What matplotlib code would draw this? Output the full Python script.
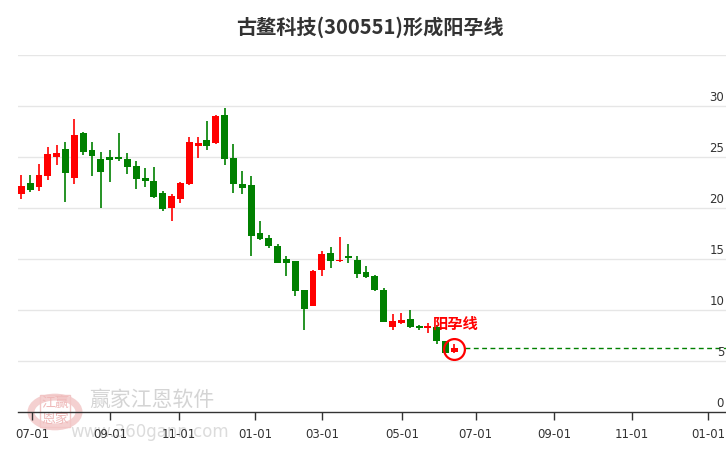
import matplotlib
matplotlib.use("Agg")
from matplotlib import pyplot as plt
from matplotlib.patches import Circle

plt.rcParams['font.family'] = ['Noto Sans CJK SC', 'DejaVu Sans']

# weekly candles (open, close, high, low)
opens = [21.41, 22.45, 22.09, 23.17, 25.03, 25.78, 22.97, 27.35, 25.69, 24.80,
         25.00, 25.00, 24.80, 24.12, 22.94, 22.65, 21.47, 20.03, 20.92, 22.39,
         26.11, 26.67, 26.41, 29.12, 24.90, 22.35, 22.25, 17.55, 17.06, 16.27,
         15.00, 14.80, 11.96, 10.42, 13.95, 15.59, 14.84, 15.33, 14.90, 13.73,
         13.37, 11.96, 8.33, 8.76, 9.12, 8.46, 8.30, 8.40, 6.99, 5.88]
closes = [22.16, 21.80, 23.24, 25.29, 25.39, 23.46, 27.16, 25.52, 25.13, 23.56,
          24.74, 24.84, 24.05, 22.88, 22.68, 21.11, 19.93, 21.18, 22.45, 26.47,
          26.37, 26.11, 29.02, 24.84, 22.39, 21.99, 17.29, 16.99, 16.31, 14.64,
          14.64, 11.90, 10.13, 13.82, 15.49, 14.84, 14.97, 15.16, 13.56, 13.27,
          11.96, 8.86, 8.95, 9.05, 8.37, 8.23, 8.49, 6.99, 5.78, 6.34]
highs = [23.24, 23.24, 24.31, 25.98, 26.18, 26.47, 28.73, 27.45, 26.47, 25.49,
         25.69, 27.35, 25.39, 24.61, 23.92, 24.02, 21.67, 21.37, 22.55, 26.96,
         26.96, 28.53, 29.12, 29.80, 26.27, 23.63, 23.14, 18.73, 17.35, 16.47,
         15.29, 14.80, 11.96, 13.92, 15.78, 16.18, 17.19, 16.47, 15.33, 14.31,
         13.46, 12.16, 9.61, 9.71, 10.00, 8.56, 8.72, 8.56, 6.99, 6.66]
lows = [20.92, 21.60, 21.70, 22.78, 24.25, 20.62, 22.39, 25.23, 23.14, 20.03,
        22.58, 24.64, 23.37, 21.90, 22.09, 21.01, 19.74, 18.76, 20.52, 22.29,
        24.93, 25.69, 26.31, 24.25, 21.50, 21.41, 15.33, 16.90, 16.11, 14.64,
        13.37, 11.41, 8.04, 10.42, 13.37, 14.15, 14.77, 14.64, 13.17, 13.17,
        11.86, 8.86, 8.04, 8.66, 8.27, 8.10, 7.74, 6.66, 5.78, 5.78]

tick_pos = [1.24, 10.03, 17.8, 26.47, 34.0, 43.1, 51.4, 60.3, 69.05, 77.7]
tick_labels = ['07-01', '09-01', '11-01', '01-01', '03-01',
               '05-01', '07-01', '09-01', '11-01', '01-01']
y_grid = [5, 10, 15, 20, 25, 30, 35]
y_labels = [0, 5, 10, 15, 20, 25, 30]

signal_name = '阳孕线'
title = '古鳌科技(300551)形成阳孕线'

fig = plt.figure(figsize=(7.26, 4.5), dpi=100)
ax = fig.add_axes([18 / 726, 0.0838, 708 / 726, 0.8771 - 0.0838])
ax.set_xlim(-0.373, 79.72)
ax.set_ylim(0, 35)

for y in y_grid:
    ax.axhline(y, color='#e6e6e6', lw=1, zorder=0)

red, green = '#ff0000', '#008000'
for i, (o, c, h, l) in enumerate(zip(opens, closes, highs, lows)):
    col = red if c >= o else green
    ax.vlines(i, l, h, color=col, lw=1.2, zorder=2)
    ax.bar(i, max(abs(c - o), 0.08), bottom=min(o, c), width=0.78,
           color=col, lw=0, zorder=3)

# signal marker on the last candle
last = len(closes) - 1
ax.plot([last + 1.2, 79.72], [closes[last]] * 2, color=green, lw=1,
        linestyle=(0, (3.5, 2.5)), zorder=2)
ax.plot(last, 6.2, 'o', ms=15, mfc='none', mec=red, mew=1.6, zorder=4)
ax.text(last + 0.1, 8.66, signal_name, color=red, fontsize=11,
        fontweight='bold', ha='center', va='center', zorder=5)

for v in y_labels:
    ax.text(79.5, v + 0.25, str(v), ha='right', va='bottom',
            fontsize=8.5, color='#333333', family='DejaVu Sans')

ax.set_xticks(tick_pos)
ax.set_xticklabels(tick_labels, fontsize=8.5, color='#333333',
                   family='DejaVu Sans')
ax.tick_params(axis='x', length=6, width=1, color='#333333', pad=5)
ax.set_yticks([])
for s in ['left', 'right', 'top']:
    ax.spines[s].set_visible(False)
ax.spines['bottom'].set_color('#333333')
ax.spines['bottom'].set_linewidth(1)
ax.patch.set_alpha(0)

fig.text(0.51, 0.94, title, ha='center', va='center', fontsize=14.5,
         fontweight='bold', color='#333333')

# watermark
fig.patches.append(Circle((55 / 726, 1 - 412 / 450), 24 / 726, transform=fig.transFigure,
                          fill=False, ec='#f4d0d0', lw=5, zorder=-1))
fig.text(55 / 726, 1 - 411 / 450, '江赢\n恩家', ha='center', va='center', fontsize=10,
         color='#efb9b9', linespacing=1.1, zorder=-1,
         bbox=dict(boxstyle='square,pad=0.1', fc='none', ec='#f2c6c6', lw=1))
fig.text(152 / 726, 1 - 400 / 450, '赢家江恩软件', ha='center', va='center',
         fontsize=15, color='#d4d4d4', zorder=-1)
fig.text(150 / 726, 1 - 432 / 450, 'www.360gann.com', ha='center', va='center',
         fontsize=12, color='#dcdcdc', family='DejaVu Sans', zorder=-1)

fig.savefig('out.png', dpi=100)
